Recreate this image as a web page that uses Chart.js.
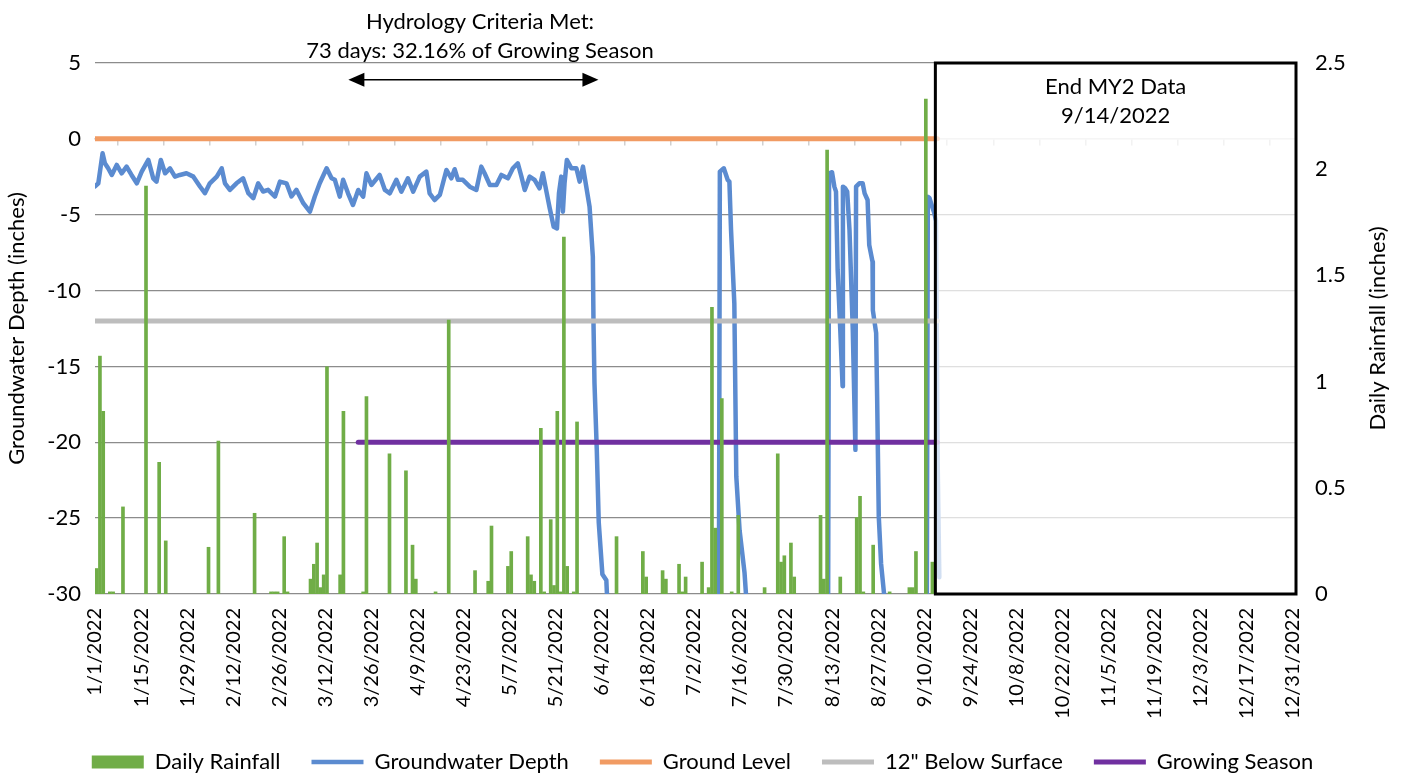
<!DOCTYPE html>
<html>
<head>
<meta charset="utf-8">
<title>Groundwater Depth and Daily Rainfall 2022</title>
<script src="https://cdn.jsdelivr.net/npm/chart.js@4.4.1/dist/chart.umd.min.js"></script>
<style>
  html, body { margin: 0; padding: 0; background: #ffffff; }
  #wrap { width: 1405px; height: 777px; }
</style>
</head>
<body>
<div id="wrap"><canvas id="chart" width="1405" height="777"></canvas></div>
<script>
// Day numbers count from 1/1/2022 (day 0).
const tickDays = [0, 14, 28, 42, 56, 70, 84, 98, 112, 126, 140, 154, 168, 182, 196,
  210, 224, 238, 252, 266, 280, 294, 308, 322, 336, 350, 364];
const tickLabels = ['1/1/2022', '1/15/2022', '1/29/2022', '2/12/2022', '2/26/2022',
  '3/12/2022', '3/26/2022', '4/9/2022', '4/23/2022', '5/7/2022', '5/21/2022',
  '6/4/2022', '6/18/2022', '7/2/2022', '7/16/2022', '7/30/2022', '8/13/2022',
  '8/27/2022', '9/10/2022', '9/24/2022', '10/8/2022', '10/22/2022', '11/5/2022',
  '11/19/2022', '12/3/2022', '12/17/2022', '12/31/2022'];

// Daily rainfall (inches), by day of year
const rainDays = [0, 1, 2, 4, 5, 8, 15, 19, 21, 34, 37, 48, 53, 54, 55, 57, 58,
  65, 66, 67, 68, 69, 70, 74, 75, 81, 82, 89, 94, 96, 97, 103, 107, 115, 119, 120,
  125, 126, 131, 132, 133, 135, 136, 138, 139, 140, 141, 142, 143, 145, 146, 158,
  166, 167, 172, 173, 177, 178, 179, 184, 186, 187, 188, 190, 193, 195, 203, 207,
  208, 209, 211, 212, 220, 221, 222, 226, 231, 232, 233, 236, 241, 247, 248, 249,
  252, 254];
const rainInches = [0.12, 1.12, 0.86, 0.01, 0.01, 0.41, 1.92, 0.62, 0.25, 0.22, 0.72,
  0.38, 0.01, 0.01, 0.01, 0.27, 0.01, 0.07, 0.14, 0.24, 0.03, 0.09, 1.07, 0.09, 0.86,
  0.01, 0.93, 0.66, 0.58, 0.23, 0.07, 0.01, 1.29, 0.11, 0.06, 0.32, 0.13, 0.20, 0.27,
  0.09, 0.06, 0.78, 0.01, 0.35, 0.04, 0.86, 0.01, 1.68, 0.13, 0.01, 0.81, 0.27, 0.20,
  0.08, 0.11, 0.07, 0.14, 0.01, 0.08, 0.15, 0.03, 1.35, 0.31, 0.92, 0.01, 0.37, 0.03,
  0.66, 0.15, 0.18, 0.24, 0.08, 0.37, 0.07, 2.09, 0.08, 0.36, 0.46, 0.01, 0.23, 0.01,
  0.03, 0.03, 0.20, 2.33, 0.15];

// Groundwater depth (inches below surface); -31 marks readings below the -30 axis floor
const gwDays = [0.0, 1.0, 2.3, 3.0, 4.0, 5.1, 6.6, 8.1, 9.6, 11.1, 12.7, 14.2, 16.2,
  17.7, 18.7, 20.0, 21.3, 22.8, 24.3, 25.8, 27.8, 29.9, 31.9, 33.4, 34.9, 37.0, 38.5,
  39.5, 41.0, 43.0, 45.0, 46.6, 48.1, 49.6, 51.1, 52.6, 54.7, 56.2, 58.2, 59.7, 61.2,
  63.3, 65.3, 66.8, 68.3, 70.4, 71.9, 72.9, 74.4, 75.4, 76.9, 78.4, 80.0, 81.5, 82.5,
  84.0, 86.5, 88.1, 89.6, 91.6, 93.1, 95.1, 96.7, 98.7, 100.7, 101.7, 103.2, 104.8,
  106.8, 108.3, 109.3, 110.3, 111.8, 113.9, 115.9, 117.4, 118.4, 120.0, 122.0, 123.5,
  125.5, 127.0, 128.5, 129.6, 130.6, 132.1, 133.6, 135.1, 136.1, 137.2, 138.2, 139.4,
  140.4, 141.0, 141.7, 142.2, 142.7, 143.4, 144.8, 146.3, 147.3, 148.3, 149.3, 150.3,
  151.3, 151.5, 151.8, 152.5, 153.1, 154.2, 155.4, 155.8,
  189.6, 189.9, 191.1, 192.3, 192.8, 193.3, 194.3, 194.9, 195.9, 197.4, 197.9, 198.2,
  222.8, 223.1, 224.0, 224.7, 225.2, 225.7, 226.5, 227.2, 227.3, 228.0, 228.6, 229.3,
  230.3, 231.1, 231.3, 232.3, 233.3, 233.9, 234.8, 235.3, 236.3, 236.4, 237.4, 237.7,
  238.2, 238.9, 239.9, 240.2,
  252.8, 253.1, 253.6, 254.4, 255.1, 255.6, 256.1, 256.6];
const gwDepth = [-3.14, -2.93, -0.95, -1.61, -1.94, -2.38, -1.72, -2.27, -1.83, -2.38,
  -2.93, -2.16, -1.39, -2.60, -2.82, -1.39, -2.27, -1.94, -2.49, -2.38, -2.27, -2.49,
  -3.14, -3.58, -2.93, -2.49, -1.94, -2.93, -3.36, -2.93, -2.60, -3.58, -3.91, -2.93,
  -3.47, -3.36, -3.80, -2.82, -2.93, -3.80, -3.36, -4.24, -4.80, -3.80, -2.93, -1.94,
  -2.60, -2.70, -3.81, -2.70, -3.59, -4.36, -3.37, -3.81, -2.27, -3.04, -2.38, -3.37,
  -3.59, -2.70, -3.48, -2.60, -3.48, -2.49, -2.16, -3.59, -4.03, -3.70, -2.05, -2.60,
  -2.00, -2.70, -2.70, -3.15, -3.37, -1.83, -2.27, -3.04, -3.04, -2.38, -2.60, -1.94,
  -1.61, -2.49, -3.37, -2.49, -2.70, -3.26, -2.27, -3.48, -4.57, -5.79, -5.90, -3.59,
  -2.49, -4.80, -2.93, -1.39, -1.94, -1.94, -2.82, -1.83, -3.15, -4.46, -7.76, -12.15,
  -16.1, -20.5, -25.3, -28.7, -29.1, -31,
  -31, -2.16, -1.94, -2.71, -2.82, -6.0, -10.84, -22.27, -25.8, -28.6, -30.2, -31,
  -31, -2.27, -2.2, -3.15, -3.48, -8.64, -12.6, -16.3, -3.15, -3.26, -3.48, -6.0,
  -12.6, -20.5, -3.15, -2.93, -2.93, -3.59, -4.03, -7.0, -8.1, -11.3, -12.8, -17.0,
  -24.9, -28.0, -30.2, -31,
  -31, -3.81, -3.90, -4.46, -4.90, -5.4, -21.4, -28.9];

// Reference levels (inches), drawn through the end of monitoring
const groundDays = [0, 256];
const groundLevel = [0, 0];
const below12Days = [0, 256];
const below12 = [-12, -12];
const seasonDays = [80, 256];
const seasonLevel = [-20, -20];

// Annotation anchors (day numbers / axis values)
const criteriaStartDay = 77;
const criteriaEndDay = 153;
const criteriaTextDay = 117;
const criteriaArrowLevel = 3.9;
const dataEndDay = 255.4;

const FONT = 'Lato';
const FONT_SIZE = 22;
const TICK_X_SIZE = 20;
const TEXT_COLOR = '#000000';

Chart.defaults.font.family = FONT;
Chart.defaults.font.size = FONT_SIZE;
Chart.defaults.color = TEXT_COLOR;

const toPoints = (xs, ys, shift = 0) => xs.map((d, i) => ({ x: d + shift, y: ys[i] }));
const fixedTicks = (scale) => { scale.ticks = tickDays.map(v => ({ value: v })); };

const lineStyle = {
  type: 'line', yAxisID: 'y', xAxisID: 'x', pointRadius: 0, pointHoverRadius: 0,
  tension: 0, borderCapStyle: 'round', borderJoinStyle: 'round', fill: false,
  pointStyle: 'line'
};

// End-of-data box, criteria arrow and captions
const annotations = {
  id: 'annotations',
  afterDatasetsDraw(chart) {
    const { ctx, chartArea, scales } = chart;
    const xs = scales.x, ys = scales.y;
    ctx.save();

    const bx = xs.getPixelForValue(dataEndDay);
    const bt = ys.getPixelForValue(5);
    const bb = ys.getPixelForValue(-30);
    const br = chartArea.right;
    ctx.fillStyle = 'rgba(255,255,255,0.72)';
    ctx.fillRect(bx, bt, br - bx, bb - bt);
    ctx.lineWidth = 3;
    ctx.strokeStyle = '#000000';
    ctx.strokeRect(bx, bt, br - bx, bb - bt);

    ctx.fillStyle = TEXT_COLOR;
    ctx.font = FONT_SIZE + 'px ' + FONT;
    ctx.textAlign = 'center';
    ctx.textBaseline = 'alphabetic';
    const bc = (bx + br) / 2;
    ctx.fillText('End MY2 Data', bc, 94);
    ctx.fillText('9/14/2022', bc, 123);

    const tx = xs.getPixelForValue(criteriaTextDay);
    ctx.fillText('Hydrology Criteria Met:', tx, 29);
    ctx.fillText('73 days: 32.16% of Growing Season', tx, 58);

    const ax1 = xs.getPixelForValue(criteriaStartDay);
    const ax2 = xs.getPixelForValue(criteriaEndDay);
    const ay = ys.getPixelForValue(criteriaArrowLevel);
    const head = 16, half = 7;
    ctx.strokeStyle = '#000000';
    ctx.lineWidth = 1.5;
    ctx.beginPath();
    ctx.moveTo(ax1 + head - 2, ay);
    ctx.lineTo(ax2 - head + 2, ay);
    ctx.stroke();
    ctx.fillStyle = '#000000';
    ctx.beginPath();
    ctx.moveTo(ax1, ay); ctx.lineTo(ax1 + head, ay - half); ctx.lineTo(ax1 + head, ay + half);
    ctx.closePath(); ctx.fill();
    ctx.beginPath();
    ctx.moveTo(ax2, ay); ctx.lineTo(ax2 - head, ay - half); ctx.lineTo(ax2 - head, ay + half);
    ctx.closePath(); ctx.fill();

    // secondary axis title, reading bottom to top
    ctx.fillStyle = TEXT_COLOR;
    ctx.translate(1378, (chartArea.top + chartArea.bottom) / 2);
    ctx.rotate(-Math.PI / 2);
    ctx.textBaseline = 'middle';
    ctx.fillText('Daily Rainfall (inches)', 0, 0);
    ctx.restore();
  }
};

new Chart(document.getElementById('chart'), {
  type: 'bar',
  data: {
    datasets: [
      {
        type: 'bar', label: 'Daily Rainfall', order: 0, yAxisID: 'y2', xAxisID: 'x',
        data: toPoints(rainDays, rainInches, 0.5),
        backgroundColor: '#70AD47', borderWidth: 0, barThickness: 3, pointStyle: 'rect'
      },
      Object.assign({}, lineStyle, {
        label: 'Groundwater Depth', order: 4, data: toPoints(gwDays, gwDepth),
        borderColor: '#5B8BD0', backgroundColor: '#5B8BD0', borderWidth: 4.5
      }),
      Object.assign({}, lineStyle, {
        label: 'Ground Level', order: 3, data: toPoints(groundDays, groundLevel),
        borderColor: '#F19B63', backgroundColor: '#F19B63', borderWidth: 5
      }),
      Object.assign({}, lineStyle, {
        label: '12" Below Surface', order: 2, data: toPoints(below12Days, below12),
        borderColor: '#BDBDBD', backgroundColor: '#BDBDBD', borderWidth: 5
      }),
      Object.assign({}, lineStyle, {
        label: 'Growing Season', order: 1, data: toPoints(seasonDays, seasonLevel),
        borderColor: '#7030A0', backgroundColor: '#7030A0', borderWidth: 5
      })
    ]
  },
  options: {
    responsive: false,
    animation: false,
    devicePixelRatio: 1,
    layout: { padding: { top: 63, left: 0, right: 0, bottom: 0 } },
    plugins: {
      tooltip: { enabled: false },
      legend: {
        position: 'bottom',
        maxHeight: 57,
        labels: {
          usePointStyle: true, pointStyleWidth: 52, boxHeight: 13, padding: 31,
          color: TEXT_COLOR, font: { size: FONT_SIZE },
          sort: (a, b) => a.datasetIndex - b.datasetIndex
        }
      }
    },
    scales: {
      x: {
        type: 'linear', position: 'bottom', min: 0, max: 365, offset: false,
        grid: { display: false, drawTicks: false }, border: { display: false },
        afterBuildTicks: fixedTicks,
        ticks: {
          autoSkip: false, minRotation: 90, maxRotation: 90, padding: 14,
          color: TEXT_COLOR, font: { size: TICK_X_SIZE },
          callback: (v) => { const i = tickDays.indexOf(v); return i >= 0 ? tickLabels[i] : ''; }
        },
        afterFit: (s) => { s.height = 126; }
      },
      x0: {
        type: 'linear', position: { y: 0 }, min: 0, max: 365, offset: false,
        afterBuildTicks: fixedTicks,
        ticks: { display: false },
        grid: { drawOnChartArea: false, drawTicks: true, tickLength: 6, color: '#D0D0D0', lineWidth: 1.5 },
        border: { display: true, color: '#D9D9D9', width: 1.5 }
      },
      y: {
        type: 'linear', position: 'left', min: -30, max: 5,
        ticks: { stepSize: 5, padding: 14, color: TEXT_COLOR, font: { size: FONT_SIZE } },
        grid: {
          drawTicks: false, lineWidth: 1.3,
          color: (c) => (c.tick && c.tick.value === 0) ? 'rgba(0,0,0,0)' : '#8C8C8C'
        },
        border: { display: false },
        title: {
          display: true, text: 'Groundwater Depth (inches)', color: TEXT_COLOR,
          font: { size: FONT_SIZE }, padding: { top: 4, bottom: 0 }
        },
        afterFit: (s) => { s.width = 95; }
      },
      y2: {
        type: 'linear', position: 'right', min: 0, max: 2.5,
        ticks: {
          stepSize: 0.5, padding: 19, color: TEXT_COLOR, font: { size: FONT_SIZE },
          callback: (v) => String(Math.round(v * 10) / 10)
        },
        grid: { display: false, drawTicks: false }, border: { display: false },
        afterFit: (s) => { s.width = 109; }
      }
    }
  },
  plugins: [annotations]
});
</script>
</body>
</html>
